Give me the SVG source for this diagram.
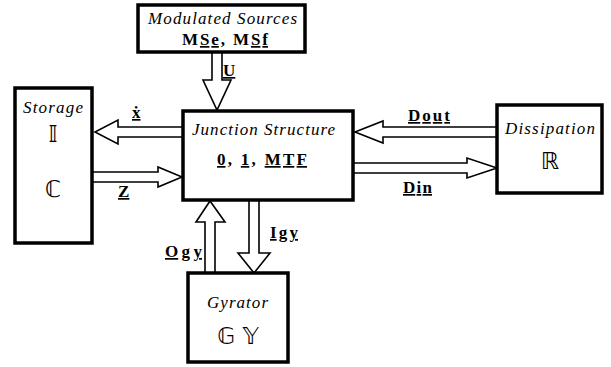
<svg xmlns="http://www.w3.org/2000/svg" width="611" height="367" viewBox="0 0 611 367">
<style>
.box{fill:#fff;stroke:#000;stroke-width:3.5}
.arr{fill:#fff;stroke:#000;stroke-width:1.6;stroke-linejoin:miter}
.u{text-decoration:underline}
.it{font-family:"Liberation Serif",serif;font-style:italic;font-size:17px}
.bd{font-family:"Liberation Serif",serif;font-weight:bold;font-size:17px}
.ds{font-family:"DejaVu Sans",sans-serif;font-size:23px}
</style>
<rect width="611" height="367" fill="#fff"/>
<g id="connectors">
<path class="arr" d="M212,53 V80 H203 L217,110 L231,80 H222 V53"/>
<path class="arr" d="M183,127 H118 V120 L95,132 L118,144 V137 H183"/>
<path class="arr" d="M92,172 H158 V167 L182,177 L158,187 V182 H92"/>
<path class="arr" d="M497,127 H383 V121 L355,132 L383,143 V137 H497"/>
<path class="arr" d="M353,163 H467 V158 L497,168 L467,178 V173 H353"/>
<path class="arr" d="M205,273 V222 H196 L210,201 L225,222 H215 V273"/>
<path class="arr" d="M249,200 V253 H238 L254,273 L270,253 H259 V200"/>
<text class="bd u" x="223" y="76" font-size="16">U</text>
<text class="bd u" x="132" y="118">ẋ</text>
<text class="bd u" x="118" y="197">Z</text>
<text class="bd u" x="408" y="121" textLength="42" lengthAdjust="spacing">Dout</text>
<text class="bd u" x="403" y="193" textLength="29" lengthAdjust="spacing">Din</text>
<text class="bd u" x="165" y="257" textLength="37" lengthAdjust="spacing">Ogy</text>
<text class="bd u" x="270" y="238" textLength="28" lengthAdjust="spacing">Igy</text>
</g>
<g id="modulated-sources">
<rect class="box" x="138" y="5" width="167" height="47"/>
<text class="it" x="148" y="24" textLength="149" lengthAdjust="spacing">Modulated Sources</text>
<text class="bd" x="182" y="45" textLength="86" lengthAdjust="spacing">M<tspan class="u">Se</tspan>, M<tspan class="u">Sf</tspan></text>
</g>
<g id="storage">
<rect class="box" x="15" y="88" width="77" height="155"/>
<text class="it" x="23" y="113" textLength="60" lengthAdjust="spacing">Storage</text>
<text class="ds" x="53" y="142" text-anchor="middle">𝕀</text>
<text class="ds" x="53" y="197" text-anchor="middle">ℂ</text>
</g>
<g id="junction-structure">
<rect class="box" x="183" y="111" width="170" height="89"/>
<text class="it" x="192" y="135" textLength="143" lengthAdjust="spacing">Junction Structure</text>
<text class="bd" x="217" y="165" font-size="18" textLength="90" lengthAdjust="spacing"><tspan class="u">0</tspan>, <tspan class="u">1</tspan>, <tspan class="u">MTF</tspan></text>
</g>
<g id="dissipation">
<rect class="box" x="497" y="105" width="105" height="88"/>
<text class="it" x="505" y="134" textLength="90" lengthAdjust="spacing">Dissipation</text>
<text class="ds" x="550" y="169" text-anchor="middle">ℝ</text>
</g>
<g id="gyrator">
<rect class="box" x="188" y="273" width="100" height="89"/>
<text class="it" x="207" y="308" textLength="61" lengthAdjust="spacing">Gyrator</text>
<text class="ds" x="238" y="344" text-anchor="middle">𝔾 𝕐</text>
</g>
</svg>
